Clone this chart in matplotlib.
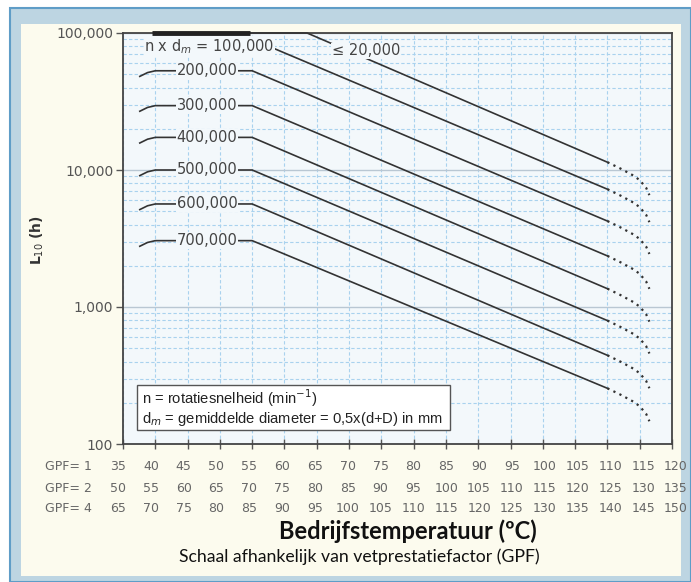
import matplotlib
matplotlib.use('Agg')
import matplotlib.pyplot as plt
from matplotlib.patches import Rectangle

# ---- data ----
line_names = ['100,000', '200,000', '300,000', '400,000', '500,000', '600,000', '700,000']
plateau = [90000, 53000, 29500, 17300, 10000, 5650, 3050]   # L10 before the knee
end_value = [7240, 4240, 2360, 1360, 796, 444, 255]          # L10 at end of solid part
knee_T = 55
end_T = 110
start_T = [37.6, 38.8, 40]          # small hook at line start
start_factor = [0.91, 0.97, 1.0]
tail_T = [110, 112, 114, 115, 116, 116.5]      # dotted tail
tail_factor = [1.0, 0.90, 0.80, 0.74, 0.65, 0.575]

low_T = [40, 63.5, 110]               # "<= 20,000" line
low_L = [100000, 100000, 11400]
top_bar_T = [39.5, 54.7]

gpf1 = [35, 40, 45, 50, 55, 60, 65, 70, 75, 80, 85, 90, 95, 100, 105, 110, 115, 120]
gpf2 = [50, 55, 60, 65, 70, 75, 80, 85, 90, 95, 100, 105, 110, 115, 120, 125, 130, 135]
gpf4 = [65, 70, 75, 80, 85, 90, 95, 100, 105, 110, 115, 120, 125, 130, 135, 140, 145, 150]
gpf_rows = [('GPF= 1', gpf1), ('GPF= 2', gpf2), ('GPF= 4', gpf4)]
y_ticks = [100, 1000, 10000, 100000]
y_labels = ['100', '1,000', '10,000', '100,000']

W, H = 691, 582
fig = plt.figure(figsize=(W / 100, H / 100), dpi=100)
fig.patch.set_facecolor('white')


def fx(px):
    return px / W


def fy(py):
    return 1 - py / H


# frame
fig.patches.append(Rectangle((fx(10), 0), 1 - fx(10), fy(8), transform=fig.transFigure,
                             facecolor='#bdd5e2', edgecolor='#5f9dc7', lw=1.5, zorder=-2))
fig.patches.append(Rectangle((fx(21), fy(576)), fx(681) - fx(21), fy(24) - fy(576),
                             transform=fig.transFigure, facecolor='#fcfbee',
                             edgecolor='none', zorder=-1))

ax = fig.add_axes([fx(123), fy(444), fx(672) - fx(123), fy(33) - fy(444)])
bg = '#f3f8fb'
ax.set_facecolor(bg)
ax.set_yscale('log')
ax.set_xlim(35, 120)
ax.set_ylim(100, 100000)

# grid
ax.set_xticks(gpf1)
ax.set_xticklabels([])
ax.set_yticks(y_ticks)
ax.set_yticklabels(y_labels)
ax.yaxis.set_minor_formatter(matplotlib.ticker.NullFormatter())
ax.grid(True, which='major', axis='x', color='#a9d2ee', lw=0.8, ls=(0, (3, 2)))
ax.grid(True, which='minor', axis='y', color='#a9d2ee', lw=0.8, ls=(0, (3, 2)))
ax.grid(True, which='major', axis='y', color='#b9c7d3', lw=1.0, ls='-')
ax.tick_params(axis='y', which='minor', length=0)
ax.tick_params(axis='y', which='major', direction='out', length=5, width=1,
               color='#555555', labelcolor='#555555', labelsize=10, pad=2)
ax.tick_params(axis='x', which='major', direction='inout', length=7, width=1,
               color='#555555')
for s in ax.spines.values():
    s.set_color('#444444')
    s.set_linewidth(1.3)

lc = '#333333'
# lines
for name, p, e in zip(line_names, plateau, end_value):
    if name == '100,000':
        xs = [40, knee_T, end_T]
        ys = [p, p, e]
    else:
        xs = start_T + [knee_T, end_T]
        ys = [p * f for f in start_factor] + [p, e]
    ax.plot(xs, ys, color=lc, lw=1.2, zorder=3)
    ax.plot(tail_T, [e * f for f in tail_factor], color=lc, lw=1.6,
            ls=(0, (1, 2)), zorder=3)
    if name == '100,000':
        ax.text(38.3, p * 0.89, 'n x d$_m$ = ' + name, ha='left', va='center',
                fontsize=10.5, color='#444444', zorder=4,
                bbox=dict(facecolor=bg, edgecolor='none', pad=0.5))
    else:
        ax.text(48, p, name, ha='center', va='center', fontsize=10.5,
                color='#444444', zorder=4,
                bbox=dict(facecolor=bg, edgecolor='none', pad=0.5))

ax.plot(low_T, low_L, color=lc, lw=1.2, zorder=3, clip_on=False)
ax.plot(tail_T, [low_L[-1] * f for f in tail_factor], color=lc, lw=1.6,
        ls=(0, (1, 2)), zorder=3)
ax.plot(top_bar_T, [100000, 100000], color='#222222', lw=3.5, zorder=5,
        clip_on=False, solid_capstyle='butt')
ax.text(72.6, 74000, '\u2264 20,000', ha='center', va='center', fontsize=10.5,
        color='#444444', zorder=4, bbox=dict(facecolor=bg, edgecolor='none', pad=0.5))

# legend box
narrow = ['Liberation Sans', 'DejaVu Sans']
fig.patches.append(Rectangle((fx(137), fy(430)), fx(450) - fx(137), fy(385) - fy(430),
                             transform=fig.transFigure, facecolor='white',
                             edgecolor='#555555', lw=1.0, zorder=5))
fig.text(fx(142), fy(398), 'n = rotatiesnelheid (min$^{-1}$)', ha='left', va='center',
         fontsize=10.6, family=narrow, color='#222222', zorder=6)
fig.text(fx(142), fy(419), 'd$_m$ = gemiddelde diameter = 0,5x(d+D) in mm', ha='left',
         va='center', fontsize=10.6, family=narrow, color='#222222', zorder=6)

# GPF table (evenly spaced under the axis)
first_px, last_px = 118, 676
n = len(gpf1)
for (lab, vals), ypx in zip(gpf_rows, [467, 488, 509]):
    fig.text(fx(45), fy(ypx), lab, ha='left', va='center', fontsize=9, color='#666666')
    for i, v in enumerate(vals):
        xp = first_px + i * (last_px - first_px) / (n - 1)
        fig.text(fx(xp), fy(ypx), str(v), ha='center', va='center',
                 fontsize=9, color='#666666')

# axis labels
fig.text(fx(37), fy(240), 'L$_{10}$ (h)', rotation=90, ha='center', va='center',
         fontsize=10, fontweight='bold', color='#333333')
fig.text(fx(408), fy(531), 'Bedrijfstemperatuur (\u00baC)', ha='center', va='center',
         fontsize=17, fontweight='bold', family=['Lato', 'DejaVu Sans'], color='#111111')
fig.text(fx(359), fy(557), 'Schaal afhankelijk van vetprestatiefactor (GPF)',
         ha='center', va='center', fontsize=12.7, family=['Lato', 'DejaVu Sans'],
         color='#111111')

fig.savefig('out.png', dpi=100)
